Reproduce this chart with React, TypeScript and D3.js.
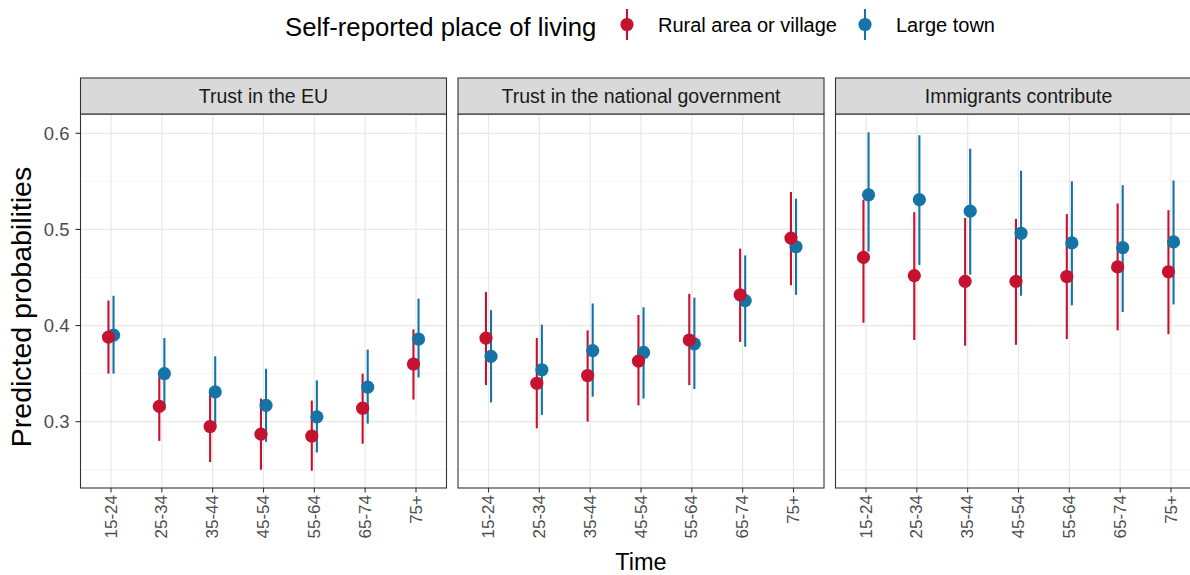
import { useEffect, useRef } from 'react';
import * as d3 from 'd3';

// age groups on the x axis
const ageGroups = ['15-24', '25-34', '35-44', '45-54', '55-64', '65-74', '75+'];
const panels = ['Trust in the EU', 'Trust in the national government', 'Immigrants contribute'];
const groups = ['Rural area or village', 'Large town'];
const groupColors = ['#C4122F', '#1673A5'];
const yDomain = [0.231, 0.6201];
const yTicks = [0.3, 0.4, 0.5, 0.6];
const yMinor = [0.25, 0.35, 0.45, 0.55];

// [estimate, lower, upper] per age group
const euRural = [
  [0.388, 0.350, 0.426], [0.316, 0.280, 0.347], [0.295, 0.258, 0.334], [0.287, 0.250, 0.324],
  [0.285, 0.249, 0.322], [0.314, 0.277, 0.350], [0.360, 0.323, 0.396],
];
const euLarge = [
  [0.390, 0.350, 0.431], [0.350, 0.312, 0.387], [0.331, 0.295, 0.368], [0.317, 0.279, 0.355],
  [0.305, 0.268, 0.343], [0.336, 0.298, 0.375], [0.386, 0.346, 0.428],
];
const govRural = [
  [0.387, 0.338, 0.435], [0.340, 0.293, 0.387], [0.348, 0.300, 0.395], [0.363, 0.317, 0.411],
  [0.385, 0.338, 0.433], [0.432, 0.383, 0.480], [0.491, 0.442, 0.539],
];
const govLarge = [
  [0.368, 0.320, 0.416], [0.354, 0.307, 0.401], [0.374, 0.326, 0.423], [0.372, 0.324, 0.419],
  [0.381, 0.334, 0.429], [0.426, 0.378, 0.473], [0.482, 0.432, 0.532],
];
const immRural = [
  [0.471, 0.403, 0.531], [0.452, 0.385, 0.518], [0.446, 0.379, 0.512], [0.446, 0.380, 0.511],
  [0.451, 0.386, 0.516], [0.461, 0.395, 0.527], [0.456, 0.391, 0.520],
];
const immLarge = [
  [0.536, 0.477, 0.601], [0.531, 0.463, 0.598], [0.519, 0.453, 0.584], [0.496, 0.431, 0.561],
  [0.486, 0.421, 0.550], [0.481, 0.414, 0.546], [0.487, 0.422, 0.551],
];

const panelData = [
  [euRural, euLarge],
  [govRural, govLarge],
  [immRural, immLarge],
];

const FONT = 'Liberation Sans, Arial, Helvetica, sans-serif';

export default function App() {
  const ref = useRef<SVGSVGElement | null>(null);

  useEffect(() => {
    const svg = d3.select(ref.current);
    svg.selectAll('*').remove();

    const panelLeft = 80.5;
    const panelW = 366;
    const panelGap = 11.5;
    const stripTop = 78;
    const panelTop = 114;
    const panelBottom = 488;

    const y = d3.scaleLinear().domain(yDomain).range([panelBottom, panelTop]);

    const root = svg.append('g').attr('font-family', FONT);

    panels.forEach((title, pi) => {
      const x0 = panelLeft + pi * (panelW + panelGap);
      const x = d3.scalePoint<string>().domain(ageGroups).range([x0, x0 + panelW]).padding(0.6);
      const dodge = d3.scaleBand<string>().domain(groups)
        .range([-x.step() * 0.1, x.step() * 0.1]);

      const g = root.append('g');

      g.append('rect')
        .attr('x', x0).attr('y', panelTop)
        .attr('width', panelW).attr('height', panelBottom - panelTop)
        .attr('fill', '#fff');

      // grid
      g.selectAll('.minor').data(yMinor).enter().append('line')
        .attr('x1', x0).attr('x2', x0 + panelW)
        .attr('y1', d => y(d)).attr('y2', d => y(d))
        .attr('stroke', '#F2F2F2').attr('stroke-width', 0.8);
      g.selectAll('.major').data(yTicks).enter().append('line')
        .attr('x1', x0).attr('x2', x0 + panelW)
        .attr('y1', d => y(d)).attr('y2', d => y(d))
        .attr('stroke', '#E8E8E8').attr('stroke-width', 1.2);
      g.selectAll('.vgrid').data(ageGroups).enter().append('line')
        .attr('x1', d => x(d)!).attr('x2', d => x(d)!)
        .attr('y1', panelTop).attr('y2', panelBottom)
        .attr('stroke', '#E8E8E8').attr('stroke-width', 1.2);

      // ranges first (large town under rural), then points
      const order = [1, 0];
      order.forEach(gi => {
        const rows = panelData[pi][gi];
        const off = dodge(groups[gi])! + dodge.bandwidth() / 2;
        g.selectAll(`.range${gi}`).data(rows).enter().append('line')
          .attr('x1', (_, i) => x(ageGroups[i])! + off)
          .attr('x2', (_, i) => x(ageGroups[i])! + off)
          .attr('y1', d => y(d[1])).attr('y2', d => y(d[2]))
          .attr('stroke', groupColors[gi]).attr('stroke-width', 2.1);
      });
      order.forEach(gi => {
        const rows = panelData[pi][gi];
        const off = dodge(groups[gi])! + dodge.bandwidth() / 2;
        g.selectAll(`.pt${gi}`).data(rows).enter().append('circle')
          .attr('cx', (_, i) => x(ageGroups[i])! + off)
          .attr('cy', d => y(d[0]))
          .attr('r', 6.6)
          .attr('fill', groupColors[gi]);
      });

      // border
      g.append('rect')
        .attr('x', x0).attr('y', panelTop)
        .attr('width', panelW).attr('height', panelBottom - panelTop)
        .attr('fill', 'none').attr('stroke', '#333').attr('stroke-width', 1.1);

      // strip
      g.append('rect')
        .attr('x', x0).attr('y', stripTop)
        .attr('width', panelW).attr('height', panelTop - stripTop)
        .attr('fill', '#D9D9D9').attr('stroke', '#333').attr('stroke-width', 1.1);
      g.append('text')
        .attr('x', x0 + panelW / 2).attr('y', (stripTop + panelTop) / 2)
        .attr('text-anchor', 'middle').attr('dominant-baseline', 'central')
        .attr('font-size', 19.5).attr('fill', '#1A1A1A')
        .text(title);

      // x axis
      g.selectAll('.xtick').data(ageGroups).enter().append('line')
        .attr('x1', d => x(d)!).attr('x2', d => x(d)!)
        .attr('y1', panelBottom).attr('y2', panelBottom + 4.5)
        .attr('stroke', '#333').attr('stroke-width', 1.1);
      g.selectAll('.xlab').data(ageGroups).enter().append('text')
        .attr('transform', d => `translate(${x(d)},${panelBottom + 7}) rotate(-90)`)
        .attr('text-anchor', 'end').attr('dominant-baseline', 'central')
        .attr('font-size', 17).attr('fill', '#4D4D4D')
        .text(d => d);
    });

    // y axis
    root.selectAll('.ytick').data(yTicks).enter().append('line')
      .attr('x1', panelLeft - 5).attr('x2', panelLeft)
      .attr('y1', d => y(d)).attr('y2', d => y(d))
      .attr('stroke', '#333').attr('stroke-width', 1.1);
    root.selectAll('.ylab').data(yTicks).enter().append('text')
      .attr('x', panelLeft - 11).attr('y', d => y(d))
      .attr('text-anchor', 'end').attr('dominant-baseline', 'central')
      .attr('font-size', 18.5).attr('fill', '#4D4D4D')
      .text(d => d3.format('.1f')(d));

    // axis titles
    root.append('text')
      .attr('x', 641).attr('y', 570)
      .attr('text-anchor', 'middle')
      .attr('font-size', 23.5).attr('fill', '#000')
      .text('Time');
    root.append('text')
      .attr('transform', `translate(31,307) rotate(-90)`)
      .attr('text-anchor', 'middle')
      .attr('font-size', 28.5).attr('fill', '#000')
      .text('Predicted probabilities');

    // legend
    const legend = root.append('g');
    legend.append('text')
      .attr('x', 285).attr('y', 36)
      .attr('font-size', 25.7).attr('fill', '#000')
      .text('Self-reported place of living');
    const keyX = [627, 865];
    groups.forEach((name, gi) => {
      legend.append('line')
        .attr('x1', keyX[gi]).attr('x2', keyX[gi])
        .attr('y1', 9).attr('y2', 40)
        .attr('stroke', groupColors[gi]).attr('stroke-width', 2.1);
      legend.append('circle')
        .attr('cx', keyX[gi]).attr('cy', 24.5).attr('r', 6.6)
        .attr('fill', groupColors[gi]);
      legend.append('text')
        .attr('x', keyX[gi] + 31).attr('y', 32)
        .attr('font-size', 20).attr('fill', '#000')
        .text(name);
    });
  }, []);

  return (
    <svg
      ref={ref}
      width={1190}
      height={575}
      style={{ position: 'absolute', left: 0, top: 0, background: '#fff' }}
    />
  );
}
